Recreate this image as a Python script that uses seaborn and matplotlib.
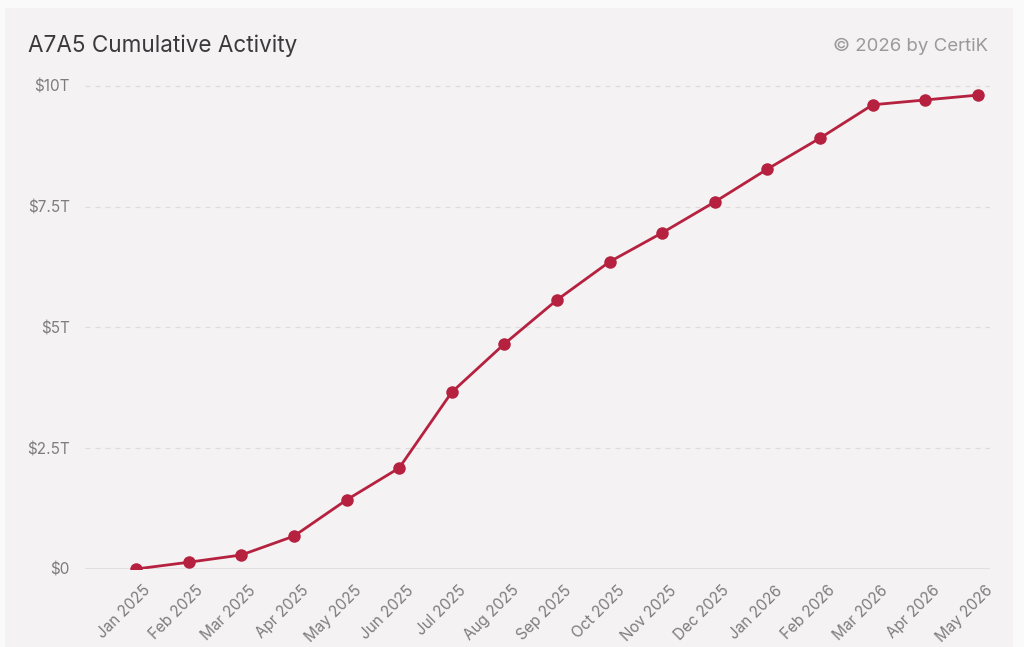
import matplotlib
matplotlib.use("Agg")
import matplotlib.pyplot as plt
import matplotlib.transforms as mtransforms
from matplotlib.patches import Rectangle
import pandas as pd
import seaborn as sns

# monthly cumulative activity, trillions of USD
months = ["Jan 2025", "Feb 2025", "Mar 2025", "Apr 2025", "May 2025", "Jun 2025",
          "Jul 2025", "Aug 2025", "Sep 2025", "Oct 2025", "Nov 2025", "Dec 2025",
          "Jan 2026", "Feb 2026", "Mar 2026", "Apr 2026", "May 2026"]
cumulative = [0.0, 0.14, 0.29, 0.68, 1.43, 2.09, 3.66, 4.66, 5.57, 6.36,
              6.96, 7.60, 8.28, 8.92, 9.61, 9.71, 9.81]
y_ticks = [0, 2.5, 5, 7.5, 10]
y_labels = ["$0", "$2.5T", "$5T", "$7.5T", "$10T"]

df = pd.DataFrame({"month": months, "value": cumulative})
df["pos"] = range(len(df))

sns.set_theme(style="white")
plt.rcParams["font.family"] = ["Inter", "DejaVu Sans"]

bg = "#f4f2f3"
red = "#b5213f"

fig = plt.figure(figsize=(10.24, 6.47), dpi=100)
fig.patch.set_facecolor("#fbfafa")
card = Rectangle((5 / 1024, 0), 1008 / 1024, 1 - 8 / 647,
                 transform=fig.transFigure, facecolor=bg, edgecolor="none")
card.set_zorder(-5)
fig.add_artist(card)

ax = fig.add_axes([85 / 1024, (647 - 569) / 647, 905 / 1024, (569 - 70) / 647])
ax.set_zorder(2)
ax.patch.set_alpha(0)

sns.lineplot(data=df, x="pos", y="value", ax=ax, color=red, linewidth=2,
             marker="o", markersize=9, markeredgewidth=0, zorder=3)

ax.set_xlim(-0.97, 16.23)
ax.set_ylim(0, 10.33)
ax.set_yticks(y_ticks)
ax.set_yticklabels(y_labels)
ax.set_xticks(df["pos"])
ax.set_xticklabels(months, rotation=45, ha="right", rotation_mode="anchor")

for y in y_ticks[1:]:
    ax.axhline(y, color="#dedbdc", linewidth=0.9, linestyle=(0, (4, 4)), zorder=1)
ax.axhline(0, color="#e2dfe0", linewidth=1.5, zorder=1)

for s in ax.spines.values():
    s.set_visible(False)
ax.tick_params(axis="both", length=0, colors="#7d7d7d", labelsize=11)
ax.tick_params(axis="y", pad=11)
ax.tick_params(axis="x", pad=10)
ax.set_xlabel("")
ax.set_ylabel("")

# nudge rotated month labels to the right of their ticks
shift = mtransforms.ScaledTranslation(7 / 100, 0, fig.dpi_scale_trans)
for lbl in ax.get_xticklabels():
    lbl.set_transform(lbl.get_transform() + shift)

fig.text(28 / 1024, 1 - 46 / 647, "A7A5 Cumulative Activity", fontsize=16.2,
         color="#3a3a3c", va="center", ha="left")
fig.text(988 / 1024, 1 - 46 / 647, "© 2026 by CertiK", fontsize=13.4,
         color="#9a9a9a", va="center", ha="right")

fig.savefig("out.png", dpi=100, facecolor=fig.get_facecolor())
